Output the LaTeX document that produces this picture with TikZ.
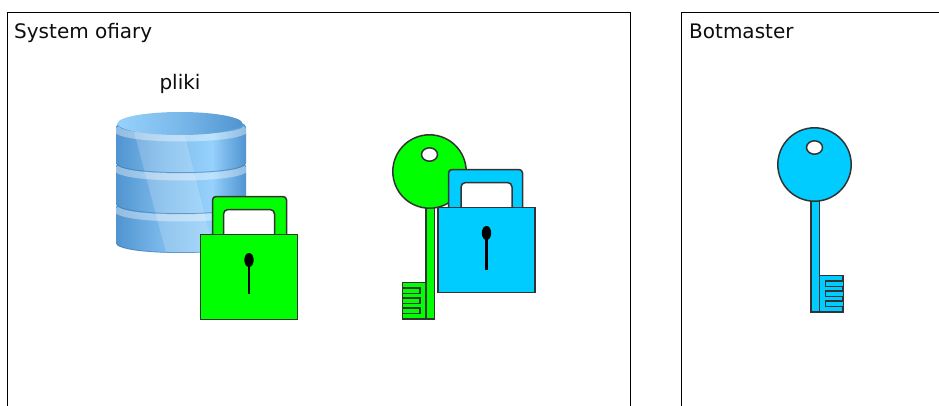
\documentclass[tikz,border=0pt]{standalone}
\usepackage{fontspec}
\setmainfont{DejaVu Sans}
\definecolor{lockgreen}{RGB}{0,255,0}
\definecolor{lockblue}{RGB}{0,204,255}
\definecolor{dbdark}{RGB}{80,148,208}
\definecolor{dbmid}{RGB}{122,184,234}
\definecolor{dblight}{RGB}{150,210,252}
\pgfdeclarehorizontalshading{dbsides}{100bp}{color(0bp)=(dbdark); color(25bp)=(dbdark); color(42bp)=(dbmid); color(62bp)=(dblight); color(67bp)=(dbmid); color(75bp)=(dbdark); color(100bp)=(dbdark)}
\pgfdeclarehorizontalshading{dbtop}{100bp}{color(0bp)=(dblight); color(25bp)=(dblight); color(50bp)=(dbmid); color(75bp)=(dbdark); color(100bp)=(dbdark)}
\tikzset{
  outline/.style={draw=black!80,line width=1.5pt},
  frame/.style={draw=black,line width=0.9pt},
  label/.style={inner sep=0pt,font=\fontsize{20}{24}\selectfont,text=black!95},
}
\newcommand{\padlock}[5]{% x, y, colour, shackle dx, stem end
  \begin{scope}[shift={(#1,#2)}]
    \draw[outline,fill=#3,rounded corners=3.5pt] (12+#4,60) -- (12+#4,0.5) -- (86+#4,0.5) -- (86+#4,60);
    \draw[outline,fill=white,rounded corners=4.5pt] (23,60) -- (23,13.5) -- (74,13.5) -- (74,60);
    \draw[outline,fill=#3] (0,38.5) rectangle (97,123.5);
    \fill[black] (48.5,64) ellipse (4.7 and 7);
    \draw[black,line width=2.2pt] (48.5,66) -- (48.5,#5);
  \end{scope}}
\newcommand{\keyshape}[5]{% x, y, xscale, colour, shaft offset
  \begin{scope}[shift={(#1,#2)},xscale=#3]
    \draw[outline,fill=#4] (#5-4.25,36) rectangle (#5+4.25,147.5);
    \draw[outline,fill=#4] (#5+4.25,111) rectangle (#5+27.5,147.5);
    \draw[outline,fill=#4] (#5+27.5,116.5) -- (#5+10,116.5) -- (#5+10,122) -- (#5+27.5,122);
    \draw[outline,fill=#4] (#5+27.5,126.5) -- (#5+10,126.5) -- (#5+10,132) -- (#5+27.5,132);
    \draw[outline,fill=#4] (#5+27.5,136.5) -- (#5+10,136.5) -- (#5+10,142) -- (#5+27.5,142);
    \draw[outline,fill=#4] (0,0) circle (36.7);
    \draw[outline,fill=white] (0,-17) ellipse (8 and 6.7);
  \end{scope}}
\newcommand{\dbdisc}[2]{% top edge y, bottom edge y
  \shade[shading=dbsides] (116,#1) .. controls (116,#1-13.3) and (246,#1-13.3) .. (246,#1) -- (246,#2) .. controls (246,#2+13.3) and (116,#2+13.3) .. (116,#2) -- cycle;
  \begin{scope}
    \clip (116,#1) .. controls (116,#1-13.3) and (246,#1-13.3) .. (246,#1) -- (246,#2) .. controls (246,#2+13.3) and (116,#2+13.3) .. (116,#2) -- cycle;
    \fill[white,opacity=.18] (131,120) -- (168,260) -- (216,260) -- (181,120) -- cycle;
    \draw[white,opacity=.38,line width=7pt] (116,#1+1) .. controls (116,#1+14.3) and (246,#1+14.3) .. (246,#1+1);
    \draw[dbdark!80!black,opacity=.6,line width=1.5pt] (116,#2) .. controls (116,#2+13.3) and (246,#2+13.3) .. (246,#2);
  \end{scope}}
\begin{document}
\begin{tikzpicture}[x=1pt,y=-1pt]
  \useasboundingbox (0,0) rectangle (939,405);
  \fill[white] (0,0) rectangle (939,405);
  \begin{scope}
    \clip (0,0) rectangle (939,405);
    \draw[frame] (7.5,420) -- (7.5,12) -- (630,12) -- (630,420);
    \draw[frame] (950,12) -- (681.5,12) -- (681.5,420);
  \end{scope}
  \node[label,anchor=base west] (victim) at (14,38) {System ofiary};
  \node[label,anchor=base west] (botmaster) at (689,38) {Botmaster};
  \node[label,anchor=base] (files) at (180,89) {pliki};
  % database
  \dbdisc{207}{243}
  \dbdisc{166}{204}
  \dbdisc{127}{163}
  \shade[shading=dbtop] (180,123.5) ellipse (62.5 and 11.5);
  % padlocks and keys
  \padlock{200.5}{196}{lockgreen}{0}{98}
  \keyshape{429.5}{171.5}{-1}{lockgreen}{-0.5}
  \padlock{438}{169}{lockblue}{-1.5}{101}
  \keyshape{814.5}{164.5}{1}{lockblue}{0.75}
\end{tikzpicture}
\end{document}
